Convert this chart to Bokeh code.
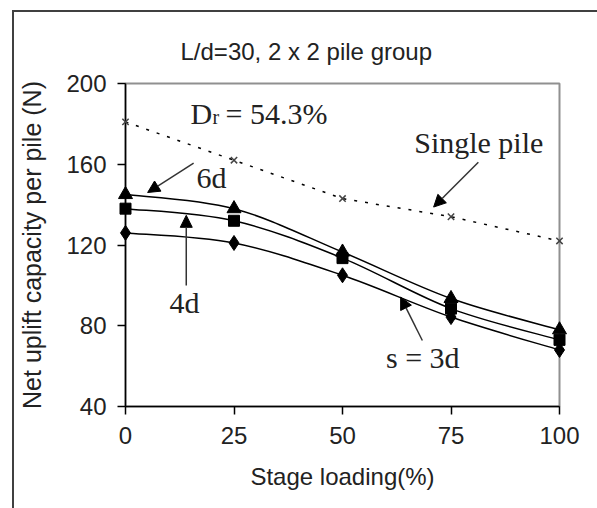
from bokeh.plotting import figure
from bokeh.models import Range1d, Label, Arrow, NormalHead, FixedTicker, ColumnDataSource
from bokeh.embed import file_html
from bokeh.resources import INLINE

# ---- data ----
stage = [0, 25, 50, 75, 100]
single_pile = [181, 162, 143, 134, 122]
s6d = [145, 138, 116.5, 93.5, 78]
s4d = [138, 132, 113.5, 88.5, 73]
s3d = [126, 121, 105, 84.3, 68]
x_ticks = [0, 25, 50, 75, 100]
y_ticks = [40, 80, 120, 160, 200]

SANS = "Liberation Sans"
SERIF = "Liberation Serif"


def smooth_segments(xs, ys, t=1.0 / 6.0):
    """Cubic Bezier segments (Catmull-Rom style) through the data points."""
    n = len(xs)
    d = dict(x0=[], y0=[], x1=[], y1=[], cx0=[], cy0=[], cx1=[], cy1=[])
    for i in range(n - 1):
        xp, yp = (xs[i - 1], ys[i - 1]) if i > 0 else (xs[i], ys[i])
        xn, yn = (xs[i + 2], ys[i + 2]) if i + 2 < n else (xs[i + 1], ys[i + 1])
        d["x0"].append(xs[i]); d["y0"].append(ys[i])
        d["x1"].append(xs[i + 1]); d["y1"].append(ys[i + 1])
        d["cx0"].append(xs[i] + (xs[i + 1] - xp) * t)
        d["cy0"].append(ys[i] + (ys[i + 1] - yp) * t)
        d["cx1"].append(xs[i + 1] - (xn - xs[i]) * t)
        d["cy1"].append(ys[i + 1] - (yn - ys[i]) * t)
    return ColumnDataSource(d)


p = figure(frame_width=434, frame_height=323,
           min_border_left=111, min_border_right=38, min_border_top=71, min_border_bottom=102,
           x_range=Range1d(0, 100), y_range=Range1d(40, 200),
           output_backend="svg", toolbar_location=None)
p.margin = (10, 0, 0, 12)
p.styles = {"border-left": "2px solid #404040", "border-top": "2px solid #404040"}
p.grid.visible = False
p.background_fill_color = "white"
p.border_fill_color = "white"
p.outline_line_color = "#909090"
p.outline_line_width = 2

# title
p.title.text = "L/d=30, 2 x 2 pile group"
p.title.align = "left"
p.title.offset = 55
p.title.standoff = 38
p.title.text_font = SANS
p.title.text_font_size = "24px"
p.title.text_font_style = "normal"
p.title.text_color = "#222222"

for ax in (p.xaxis[0], p.yaxis[0]):
    ax.axis_line_color = "black"
    ax.axis_line_width = 1.5
    ax.major_tick_line_color = "black"
    ax.major_tick_line_width = 1.5
    ax.major_tick_in = 0
    ax.major_tick_out = 8
    ax.minor_tick_line_color = None
    ax.major_label_text_font = SANS
    ax.major_label_text_font_size = "24px"
    ax.major_label_text_color = "#222222"
    ax.axis_label_text_font = SANS
    ax.axis_label_text_font_style = "normal"
    ax.axis_label_text_color = "#222222"

p.xaxis[0].ticker = FixedTicker(ticks=x_ticks)
p.yaxis[0].ticker = FixedTicker(ticks=y_ticks)
p.xaxis[0].axis_label = "Stage loading(%)"
p.xaxis[0].axis_label_text_font_size = "24px"
p.xaxis[0].major_label_standoff = 12
p.xaxis[0].axis_label_standoff = 16
p.yaxis[0].axis_label = "Net uplift capacity per pile (N)"
p.yaxis[0].axis_label_text_font_size = "25px"
p.yaxis[0].major_label_standoff = 11
p.yaxis[0].axis_label_standoff = 17

# single pile: dotted
p.line(stage, single_pile, line_color="black", line_width=1.5, line_dash="3 8")
xr = p.scatter(stage, single_pile, marker="x", size=9, line_color="#444444", line_width=1.5)
xr.level = "overlay"

# group curves (smoothed)
for ys in (s6d, s4d, s3d):
    src = smooth_segments(stage, ys)
    p.bezier(x0="x0", y0="y0", x1="x1", y1="y1", cx0="cx0", cy0="cy0", cx1="cx1", cy1="cy1",
             source=src, line_color="black", line_width=1.5)

r1 = p.scatter(stage, s3d, marker="diamond", size=15, fill_color="black", line_color="black")
r2 = p.scatter(stage, s4d, marker="square", size=11, fill_color="black", line_color="black")
r3 = p.scatter(stage, s6d, marker="triangle", size=14, fill_color="black", line_color="black")
for r in (r1, r2, r3):
    r.level = "overlay"

# D_r = 54.3%
DR_X, DR_Y = 15, 185
p.add_layout(Label(x=DR_X, y=DR_Y, text="D", text_align="left", text_baseline="alphabetic",
                   text_font=SERIF, text_font_size="30px", text_color="#222222"))
p.add_layout(Label(x=DR_X, y=DR_Y, x_offset=22, y_offset=-3, text="r", text_align="left",
                   text_baseline="alphabetic", text_font=SERIF, text_font_size="20px",
                   text_color="#222222"))
p.add_layout(Label(x=DR_X, y=DR_Y, x_offset=35, text="= 54.3%", text_align="left",
                   text_baseline="alphabetic", text_font=SERIF, text_font_size="30px",
                   text_color="#222222"))

# annotation texts
ann_text = ["6d", "4d", "s = 3d", "Single pile"]
ann_xy = [(19.8, 153.5), (13.6, 91.6), (68.5, 64.4), (81.4, 171)]
for t, (ax_, ay_) in zip(ann_text, ann_xy):
    p.add_layout(Label(x=ax_, y=ay_, text=t, text_align="center", text_baseline="middle",
                       text_font=SERIF, text_font_size="30px", text_color="#222222"))

# arrows (tail -> head)
arrows = [((15.7, 160.5), (5.1, 146)),
          ((14, 100), (14, 134.7)),
          ((68.4, 72.7), (63.4, 94.2)),
          ((81.3, 161), (71, 138.8))]
for (xs_, ys_), (xe_, ye_) in arrows:
    p.add_layout(Arrow(x_start=xs_, y_start=ys_, x_end=xe_, y_end=ye_,
                       line_color="#333333", line_width=1.5,
                       end=NormalHead(size=12, fill_color="black", line_color="black")))

open("out.html", "w").write(file_html(p, INLINE))
